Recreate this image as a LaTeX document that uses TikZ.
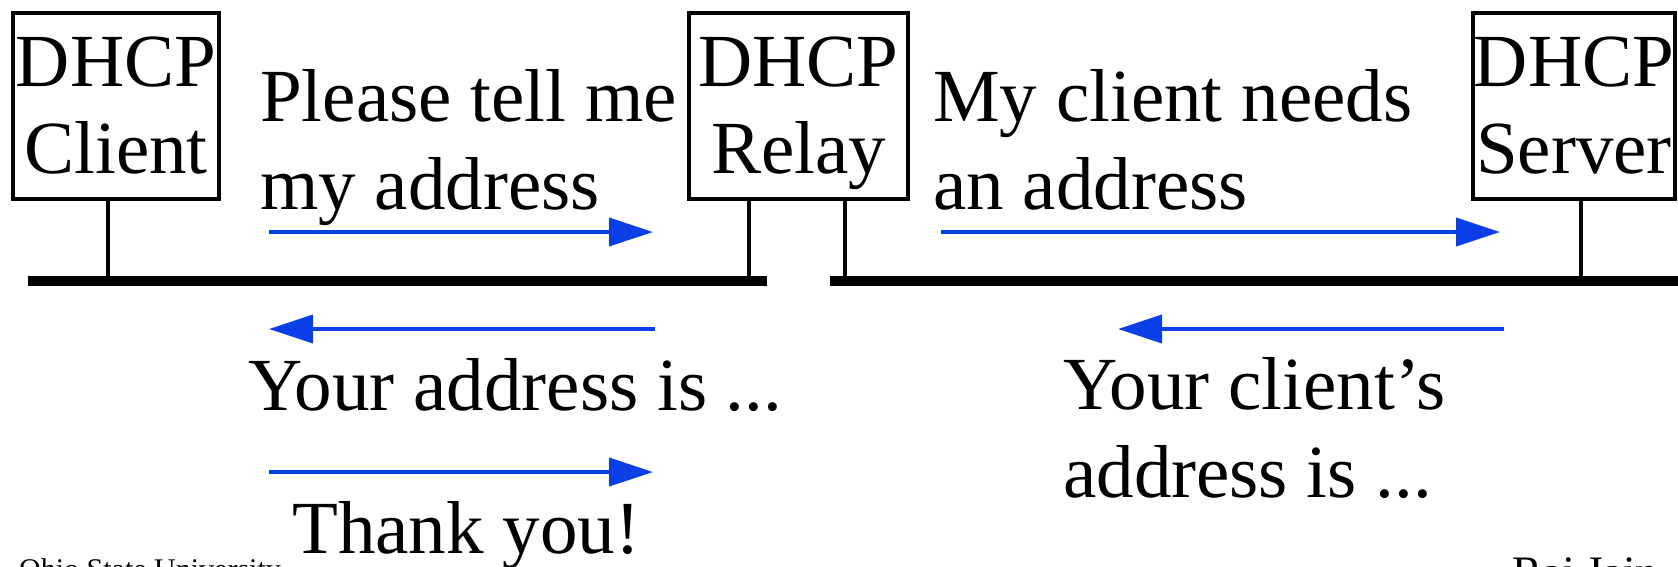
\documentclass[tikz,border=0pt]{standalone}
\usepackage{fontspec}
\setmainfont{Liberation Serif}
\usetikzlibrary{arrows.meta}
\definecolor{msgblue}{RGB}{10,62,230}
\tikzset{
  unitbox/.style={draw=black, line width=4pt, fill=white, inner sep=0pt, rectangle},
  boxtext/.style={inner sep=0pt, anchor=base, font=\fontsize{75pt}{88pt}\selectfont},
  msgtext/.style={inner sep=0pt, anchor=base west, font=\fontsize{75pt}{88pt}\selectfont},
  bus/.style={line width=10pt},
  tap/.style={line width=3.5pt},
  msg/.style={draw=msgblue, line width=4pt, -{Triangle[length=44pt, width=28pt]}},
  footer/.style={inner sep=0pt, anchor=base west}
}
\begin{document}
\begin{tikzpicture}[x=1pt, y=-1pt]
\useasboundingbox (0,0) rectangle (1678,566);

% stations
\node[unitbox, minimum width=206pt, minimum height=186pt] (client) at (116,106) {};
\node[unitbox, minimum width=219pt, minimum height=186pt] (relay)  at (798.5,106) {};
\node[unitbox, minimum width=202pt, minimum height=186pt] (server) at (1574,106) {};
\node[boxtext] (clientA) at (116,86)  {DHCP};
\node[boxtext] (clientB) at (116,173) {Client};
\node[boxtext] (relayA)  at (798.5,86)  {DHCP};
\node[boxtext] (relayB)  at (798.5,173) {Relay};
\node[boxtext] (serverA) at (1574,86)  {DHCP};
\node[boxtext] (serverB) at (1574,173) {Server};

% the two segments
\coordinate (busLa) at (28,281);
\coordinate (busLb) at (767,281);
\coordinate (busRa) at (830,281);
\coordinate (busRb) at (1690,281);
\draw[bus] (busLa) -- (busLb);
\draw[bus] (busRa) -- (busRb);

% taps onto the segments
\coordinate (tapC)  at (108,281);
\coordinate (tapR1) at (749,281);
\coordinate (tapR2) at (845,281);
\coordinate (tapS)  at (1581,281);
\draw[tap] (tapC  |- client.south) -- (tapC);
\draw[tap] (tapR1 |- relay.south)  -- (tapR1);
\draw[tap] (tapR2 |- relay.south)  -- (tapR2);
\draw[tap] (tapS  |- server.south) -- (tapS);

% messages
\coordinate (m1a) at (269,232);  \coordinate (m1b) at (653,232);
\coordinate (m2a) at (655,329);  \coordinate (m2b) at (269,329);
\coordinate (m3a) at (269,472);  \coordinate (m3b) at (653,472);
\coordinate (m4a) at (941,232);  \coordinate (m4b) at (1500,232);
\coordinate (m5a) at (1504,329); \coordinate (m5b) at (1118,329);
\draw[msg] (m1a) -- (m1b);
\draw[msg] (m2a) -- (m2b);
\draw[msg] (m3a) -- (m3b);
\draw[msg] (m4a) -- (m4b);
\draw[msg] (m5a) -- (m5b);

\node[msgtext] (ask1)  at (260,121) {Please tell me};
\node[msgtext] (ask2)  at (260,209) {my address};
\node[msgtext] (fwd1)  at (933,121) {My client needs};
\node[msgtext] (fwd2)  at (933,209) {an address};
\node[msgtext] (rep1)  at (248,410) {Your address is ...};
\node[msgtext] (thx)   at (292,553) {Thank you!};
\node[msgtext] (rep2)  at (1063,409) {Your client’s};
\node[msgtext] (rep3)  at (1063,497) {address is ...};

% page footer
\node[footer, font=\fontsize{30pt}{36pt}\selectfont] (univ) at (19,579) {Ohio State University};
\node[footer, font=\fontsize{45pt}{54pt}\selectfont] (auth) at (1512,587) {Raj Jain};
\end{tikzpicture}
\end{document}
